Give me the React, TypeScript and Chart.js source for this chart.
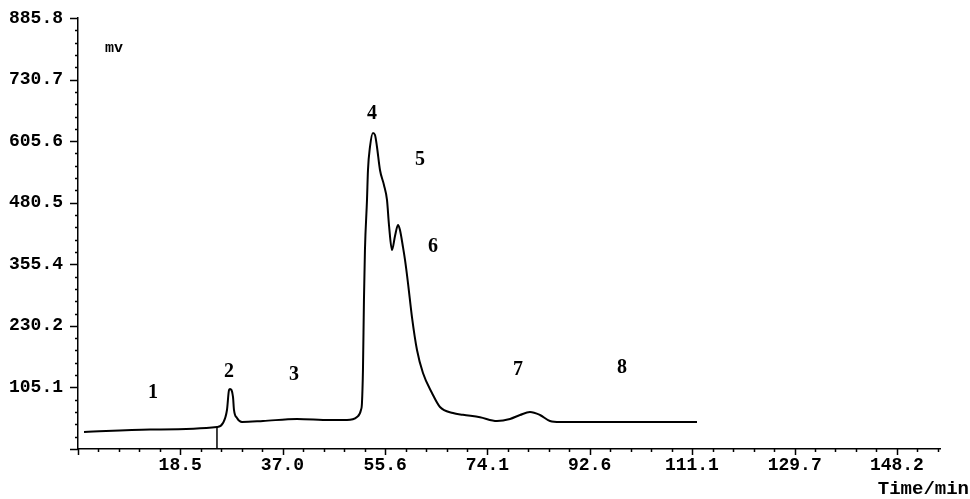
import React, { useEffect, useRef } from "react";
import { Chart, registerables } from "chart.js";

Chart.register(...registerables);

// Chromatogram trace (retention time in min, signal in mV)
const timeMin = [
  1.09, 13.03, 25.15, 26.24, 26.96, 27.33, 27.51, 28.05, 28.23, 28.77, 29.68,
  33.48, 39.63, 45.6, 48.68, 50.49, 51.21, 51.39, 51.57, 51.75, 51.93, 52.3,
  52.48, 52.84, 53.38, 53.75, 54.11, 54.65, 55.37, 55.92, 56.28, 56.82, 57.37,
  57.91, 58.27, 58.81, 59.18, 59.72, 60.44, 61.35, 62.43, 64.06, 65.51, 67.86,
  69.67, 72.75, 75.82, 78.18, 79.99, 81.8, 83.6, 85.41, 87.22, 112.02,
];
const signalMv = [
  14.5, 19.6, 24.7, 32.8, 59.3, 99.9, 101.9, 85.7, 59.3, 43.0, 34.9,
  36.9, 41.0, 38.9, 38.9, 45.0, 59.3, 73.5, 140.5, 282.8, 384.4, 486.0,
  547.0, 593.7, 622.1, 618.1, 593.7, 547.0, 516.5, 486.0, 435.2, 384.4, 412.8,
  435.2, 425.0, 390.5, 364.1, 317.3, 248.2, 181.2, 134.4, 93.8, 65.3, 53.2,
  49.5, 44.5, 36.9, 41.0, 49.1, 55.2, 49.1, 36.9, 34.9, 34.9,
];

// integration start marker
const markerTime = [25.15, 25.15];
const markerMv = [-20, 24.7];

// axis ticks
const xTickValues = [18.5, 37.0, 55.6, 74.1, 92.6, 111.1, 129.7, 148.2];
const xTickLabels = ["18.5", "37.0", "55.6", "74.1", "92.6", "111.1", "129.7", "148.2"];
const yTickValues = [105.1, 230.2, 355.4, 480.5, 605.6, 730.7, 855.8];
const yTickLabels = ["105.1", "230.2", "355.4", "480.5", "605.6", "730.7", "885.8"];

// peak numbers
const peakNames = ["1", "2", "3", "4", "5", "6", "7", "8"];
const peakTimes = [13.57, 27.33, 39.09, 53.2, 61.89, 64.24, 79.62, 98.44];
const peakMv = [93.8, 136.5, 130.4, 660.8, 567.3, 390.5, 140.5, 144.6];

const X_MIN = 0;
const X_MAX = 156;
const Y_MIN = -20;
const Y_MAX = 855.8;
const X_MINOR = 18.525 / 5;
const Y_MINOR = 125.1 / 5;

const FONT = '"Liberation Mono", monospace';
const SERIF = '"Liberation Serif", serif';

const decorPlugin = {
  id: "decor",
  afterDraw(chart: any) {
    const { ctx, chartArea } = chart;
    const xs = chart.scales.x;
    const ys = chart.scales.y;
    ctx.save();
    ctx.strokeStyle = "#000";
    ctx.lineWidth = 1.5;
    ctx.beginPath();
    for (let i = 0; X_MIN + i * X_MINOR <= X_MAX + 1e-6; i++) {
      const px = Math.round(xs.getPixelForValue(X_MIN + i * X_MINOR)) + 0.5;
      const len = i % 5 === 0 ? 6 : 3;
      ctx.moveTo(px, chartArea.bottom);
      ctx.lineTo(px, chartArea.bottom + len);
    }
    for (let i = 0; Y_MIN + i * Y_MINOR <= Y_MAX + 1e-6; i++) {
      const py = Math.round(ys.getPixelForValue(Y_MIN + i * Y_MINOR)) + 0.5;
      const len = i % 5 === 0 ? 8 : 3;
      ctx.moveTo(chartArea.left, py);
      ctx.lineTo(chartArea.left - len, py);
    }
    ctx.stroke();

    ctx.fillStyle = "#000";
    ctx.textAlign = "center";
    ctx.textBaseline = "middle";
    ctx.font = `bold 20px ${SERIF}`;
    peakNames.forEach((n, i) => {
      ctx.fillText(n, xs.getPixelForValue(peakTimes[i]), ys.getPixelForValue(peakMv[i]));
    });

    ctx.font = `bold 15px ${FONT}`;
    ctx.textAlign = "left";
    ctx.fillText("mv", chartArea.left + 27, chartArea.top + 30);

    ctx.font = `bold 19px ${FONT}`;
    ctx.textAlign = "right";
    ctx.fillText("Time/min", chart.width - 1, chartArea.bottom + 40);
    ctx.restore();
  },
};

export default function App() {
  const ref = useRef<HTMLCanvasElement | null>(null);
  useEffect(() => {
    if (!ref.current) return;
    const chart = new Chart(ref.current, {
      type: "line",
      data: {
        datasets: [
          {
            data: timeMin.map((t, i) => ({ x: t, y: signalMv[i] })),
            borderColor: "#000",
            borderWidth: 2,
            pointRadius: 0,
            fill: false,
            cubicInterpolationMode: "monotone",
          },
          {
            data: markerTime.map((t, i) => ({ x: t, y: markerMv[i] })),
            borderColor: "#000",
            borderWidth: 1.5,
            pointRadius: 0,
            fill: false,
          },
        ],
      },
      options: {
        responsive: false,
        animation: false,
        layout: { padding: { top: 18, right: 30, left: 0, bottom: 0 } },
        plugins: { legend: { display: false }, tooltip: { enabled: false } },
        scales: {
          x: {
            type: "linear",
            min: X_MIN,
            max: X_MAX,
            afterBuildTicks: (s: any) => {
              s.ticks = xTickValues.map((v) => ({ value: v }));
            },
            afterFit: (s: any) => {
              s.height = 50;
            },
            grid: { display: false, drawTicks: false },
            border: { display: true, color: "#000", width: 1.5 },
            ticks: {
              autoSkip: false,
              maxRotation: 0,
              minRotation: 0,
              padding: 6,
              color: "#000",
              font: { family: FONT, size: 18, weight: "bold" },
              callback: (_v: any, i: number) => xTickLabels[i],
            },
          },
          y: {
            type: "linear",
            min: Y_MIN,
            max: Y_MAX,
            afterBuildTicks: (s: any) => {
              s.ticks = yTickValues.map((v) => ({ value: v }));
            },
            afterFit: (s: any) => {
              s.width = 78;
            },
            grid: {
              display: true,
              drawOnChartArea: false,
              drawTicks: true,
              tickLength: 12,
              tickColor: "rgba(0,0,0,0)",
              color: "rgba(0,0,0,0)",
            },
            border: { display: true, color: "#000", width: 1.5 },
            ticks: {
              autoSkip: false,
              padding: 3,
              color: "#000",
              font: { family: FONT, size: 18, weight: "bold" },
              callback: (_v: any, i: number) => yTickLabels[i],
            },
          },
        },
      },
      plugins: [decorPlugin],
    });
    return () => chart.destroy();
  }, []);
  return (
    <canvas
      ref={ref}
      width={970}
      height={499}
      style={{ position: "fixed", left: 0, top: 0, width: 970, height: 499, background: "#fff" }}
    />
  );
}
